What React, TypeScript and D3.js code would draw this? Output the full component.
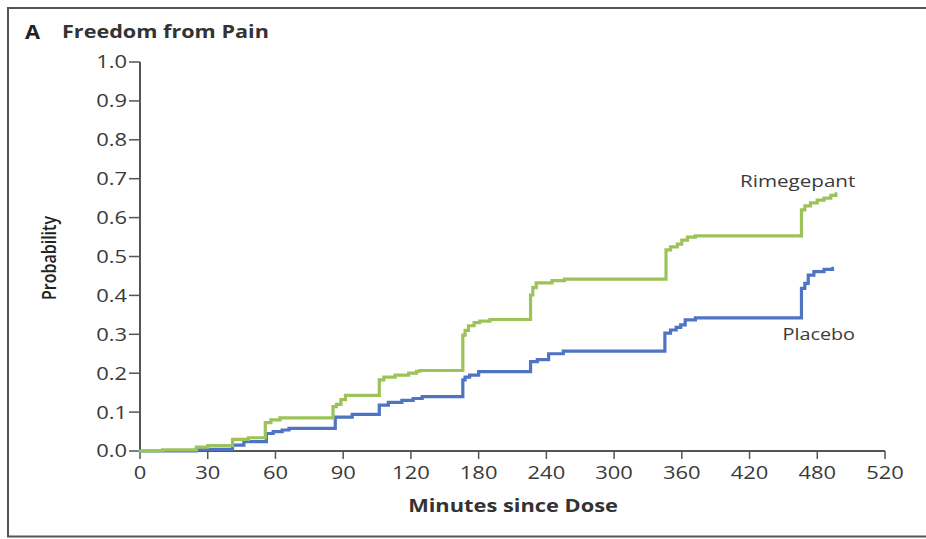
import React from "react";
import * as d3 from "d3";

// Kaplan–Meier style cumulative probability of freedom from pain (minutes, probability)
const rimegepantTimes = [0, 10, 25, 30, 41, 48, 55.5, 58, 62, 85.5, 87, 89, 91, 106, 108, 113, 119, 125, 128, 166, 168, 171, 176, 181, 190, 226, 228, 231, 245, 256, 346, 350, 356, 360, 365, 372, 466, 469, 474, 480, 484, 488, 491];
const rimegepantProb = [0, 0.003, 0.01, 0.014, 0.03, 0.034, 0.073, 0.08, 0.085, 0.114, 0.12, 0.132, 0.143, 0.183, 0.19, 0.195, 0.2, 0.205, 0.207, 0.298, 0.31, 0.322, 0.33, 0.334, 0.338, 0.401, 0.42, 0.432, 0.438, 0.442, 0.517, 0.525, 0.532, 0.542, 0.55, 0.553, 0.62, 0.63, 0.638, 0.645, 0.65, 0.657, 0.662];

const placeboTimes = [0, 25, 41, 46, 56, 59, 63, 66, 86.5, 94, 106, 110, 116, 122, 130, 166, 168, 172, 180, 226, 232, 242, 255, 345, 350, 355, 359, 363, 372, 466, 469, 472, 477, 484, 489];
const placeboProb = [0, 0.004, 0.015, 0.024, 0.045, 0.05, 0.054, 0.058, 0.087, 0.094, 0.118, 0.125, 0.13, 0.135, 0.14, 0.183, 0.19, 0.195, 0.204, 0.23, 0.235, 0.25, 0.257, 0.303, 0.311, 0.318, 0.324, 0.337, 0.342, 0.418, 0.431, 0.452, 0.461, 0.467, 0.47];

const xTicks = [0, 30, 60, 90, 120, 180, 240, 300, 360, 420, 480, 520];
const yTicks = [0, 0.1, 0.2, 0.3, 0.4, 0.5, 0.6, 0.7, 0.8, 0.9, 1.0];

const W = 926;
const H = 539;
const axisX0 = 140;
const axisX1 = 885;
const axisY0 = 451;
const axisY1 = 62;

const GREEN = "#9cc35a";
const BLUE = "#4f74c4";
const INK = "#3a3a3a";
const FONT = "'Open Sans', 'Noto Sans', sans-serif";
const STRETCH = 1.22; // glyphs are set wide

// Ticks are evenly spaced even though their intervals differ, so the
// time axis is piecewise linear between consecutive tick values.
const x = d3
  .scaleLinear()
  .domain(xTicks)
  .range(xTicks.map((_, i) => axisX0 + ((axisX1 - axisX0) * i) / (xTicks.length - 1)));
const y = d3.scaleLinear().domain([0, 1]).range([axisY0, axisY1]);

const stepLine = d3
  .line<[number, number]>()
  .x((d) => x(d[0]))
  .y((d) => y(d[1]))
  .curve(d3.curveStepAfter);

const zip = (t: number[], p: number[]) => t.map((v, i) => [v, p[i]] as [number, number]);

type WideTextProps = {
  x: number;
  y: number;
  size: number;
  weight?: number;
  anchor?: "start" | "middle" | "end";
  fill?: string;
  sx?: number;
  dy?: string;
  children: React.ReactNode;
};

function WideText({ x, y, size, weight = 400, anchor = "start", fill = INK, sx = STRETCH, dy, children }: WideTextProps) {
  return (
    <text
      transform={`translate(${x},${y}) scale(${sx},1)`}
      textAnchor={anchor}
      dy={dy}
      fontFamily={FONT}
      fontSize={size}
      fontWeight={weight}
      fill={fill}
    >
      {children}
    </text>
  );
}

export default function App() {
  const green = zip(rimegepantTimes, rimegepantProb);
  const blue = zip(placeboTimes, placeboProb);
  return (
    <svg width={W} height={H} style={{ position: "absolute", left: 0, top: 0, background: "#fff" }}>
      <rect x={0} y={0} width={W} height={H} fill="#fff" />
      {/* panel frame */}
      <path d={`M${W + 5},8 L8,8 L8,536.5 L${W + 5},536.5`} fill="none" stroke="#555" strokeWidth={2} />

      <WideText x={25} y={38.5} size={19.5} weight={700} fill="#222" sx={1.12}>A</WideText>
      <WideText x={62} y={38} size={17.5} weight={700} fill="#333" sx={1.235}>Freedom from Pain</WideText>

      {/* y axis */}
      <line x1={axisX0} x2={axisX0} y1={axisY1} y2={axisY0} stroke="#555" strokeWidth={2} />
      {yTicks.map((t) => (
        <g key={t}>
          <line x1={axisX0 - 11} x2={axisX0} y1={y(t)} y2={y(t)} stroke="#555" strokeWidth={1.5} />
          <WideText x={axisX0 - 13} y={y(t)} dy="0.36em" anchor="end" size={18}>
            {t.toFixed(1)}
          </WideText>
        </g>
      ))}
      <text
        transform={`translate(56,258) rotate(-90) scale(1,1.2)`}
        textAnchor="middle"
        fontFamily={FONT}
        fontWeight={600}
        fontSize={16}
        fill="#222"
      >
        Probability
      </text>

      {/* x axis */}
      <line x1={axisX0} x2={axisX1} y1={axisY0} y2={axisY0} stroke="#555" strokeWidth={2} />
      {xTicks.map((t) => (
        <g key={t}>
          <line x1={x(t)} x2={x(t)} y1={axisY0} y2={axisY0 + 8} stroke="#555" strokeWidth={1.5} />
          <WideText x={x(t)} y={479} anchor="middle" size={18}>
            {t}
          </WideText>
        </g>
      ))}
      <WideText x={513} y={511.5} anchor="middle" size={18.5} weight={700} fill="#333" sx={1.18}>
        Minutes since Dose
      </WideText>

      {/* survival-style step curves */}
      <path d={stepLine(blue) ?? ""} fill="none" stroke={BLUE} strokeWidth={3.2} strokeLinecap="round" />
      <path d={stepLine(green) ?? ""} fill="none" stroke={GREEN} strokeWidth={3.2} strokeLinecap="round" />

      <WideText x={740} y={187} size={16.5} sx={1.25}>Rimegepant</WideText>
      <WideText x={782.5} y={340} size={16.5} sx={1.2}>Placebo</WideText>
    </svg>
  );
}
